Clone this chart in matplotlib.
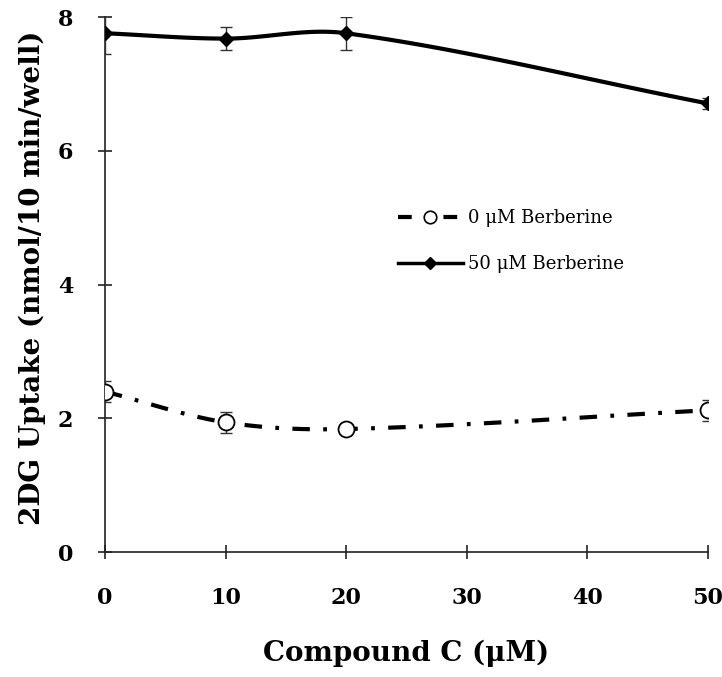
import matplotlib.pyplot as plt
import numpy as np

# compound C concentration (uM)
conc = [0, 10, 20, 50]
# 2DG uptake, 0 uM berberine
uptake_0 = [2.40, 1.94, 1.84, 2.12]
err_0 = [0.16, 0.16, 0.05, 0.16]
# 2DG uptake, 50 uM berberine
uptake_50 = [7.76, 7.68, 7.76, 6.71]
err_50 = [0.31, 0.17, 0.25, 0.08]

xticks = [0, 10, 20, 30, 40, 50]
yticks = [0, 2, 4, 6, 8]


def smooth(xs, ys, n=40):
    # hermite curve through the points (like excel "smoothed line")
    xs = np.asarray(xs, float)
    ys = np.asarray(ys, float)
    px = np.concatenate([[2 * xs[0] - xs[1]], xs, [2 * xs[-1] - xs[-2]]])
    py = np.concatenate([[2 * ys[0] - ys[1]], ys, [2 * ys[-1] - ys[-2]]])
    ox, oy = [], []
    t = np.linspace(0, 1, n)
    for i in range(1, len(px) - 2):
        p0, p1, p2, p3 = px[i - 1], px[i], px[i + 1], px[i + 2]
        q0, q1, q2, q3 = py[i - 1], py[i], py[i + 1], py[i + 2]
        w = p2 - p1
        my1 = (q2 - q0) / (p2 - p0) * w
        my2 = (q3 - q1) / (p3 - p1) * w
        h00 = 2 * t**3 - 3 * t**2 + 1
        h10 = t**3 - 2 * t**2 + t
        h01 = -2 * t**3 + 3 * t**2
        h11 = t**3 - t**2
        ox.extend(p1 + w * t)
        oy.extend(h00 * q1 + h10 * my1 + h01 * q2 + h11 * my2)
    return np.array(ox), np.array(oy)


plt.rcParams['font.family'] = 'DejaVu Serif'

fig = plt.figure(figsize=(7.22, 6.77), dpi=100)
ax = fig.add_axes([0.1454, 0.1846, 0.835, 0.79])

dash = (0, (4.2, 3.2, 0.9, 3.2))

sx, sy = smooth(conc, uptake_0)
ax.plot(sx, sy, color='black', lw=3, linestyle=dash, zorder=2)
ax.errorbar(conc, uptake_0, yerr=err_0, fmt='none', ecolor='#333333',
            elinewidth=1, capsize=4.5, capthick=1, zorder=3)
ax.plot(conc, uptake_0, 'o', ms=11.5, mfc='white', mec='black', mew=1.3, zorder=4)

sx, sy = smooth(conc, uptake_50)
ax.plot(sx, sy, color='black', lw=3, zorder=2)
ax.errorbar(conc, uptake_50, yerr=err_50, fmt='none', ecolor='#333333',
            elinewidth=1, capsize=4.5, capthick=1, zorder=3)
ax.plot(conc, uptake_50, 'D', ms=7.5, color='black', zorder=4)

# legend handles
h0, = ax.plot([], [], color='black', lw=3, linestyle=(0, (3.3, 7.6)),
              marker='o', ms=9, mfc='white', mec='black', mew=1.2)
h50, = ax.plot([], [], color='black', lw=2.5, marker='D', ms=6.5)
ax.legend([h0, h50], ['0 \u03bcM Berberine', '50 \u03bcM Berberine'],
          loc='upper left', bbox_to_anchor=(0.459, 0.672), frameon=False,
          fontsize=13, handlelength=3.6, handletextpad=0.3, labelspacing=1.55)

ax.set_xlim(0, 50)
ax.set_ylim(0, 8)
ax.set_xticks(xticks)
ax.set_yticks(yticks)
ax.spines['top'].set_visible(False)
ax.spines['right'].set_visible(False)
for s in ['left', 'bottom']:
    ax.spines[s].set_linewidth(1.2)
    ax.spines[s].set_color('#222222')
ax.tick_params(direction='inout', length=10, width=1.2, color='#222222',
               labelsize=16)
for lbl in ax.get_xticklabels() + ax.get_yticklabels():
    lbl.set_fontweight('bold')
ax.tick_params(axis='x', pad=20)
ax.tick_params(axis='y', pad=18)

ax.set_xlabel('Compound C (\u03bcM)', fontsize=20, fontweight='bold', labelpad=22)
ax.set_ylabel('2DG Uptake (nmol/10 min/well)', fontsize=20, fontweight='bold',
              labelpad=8, y=0.512)

plt.savefig('out.png', dpi=100)
